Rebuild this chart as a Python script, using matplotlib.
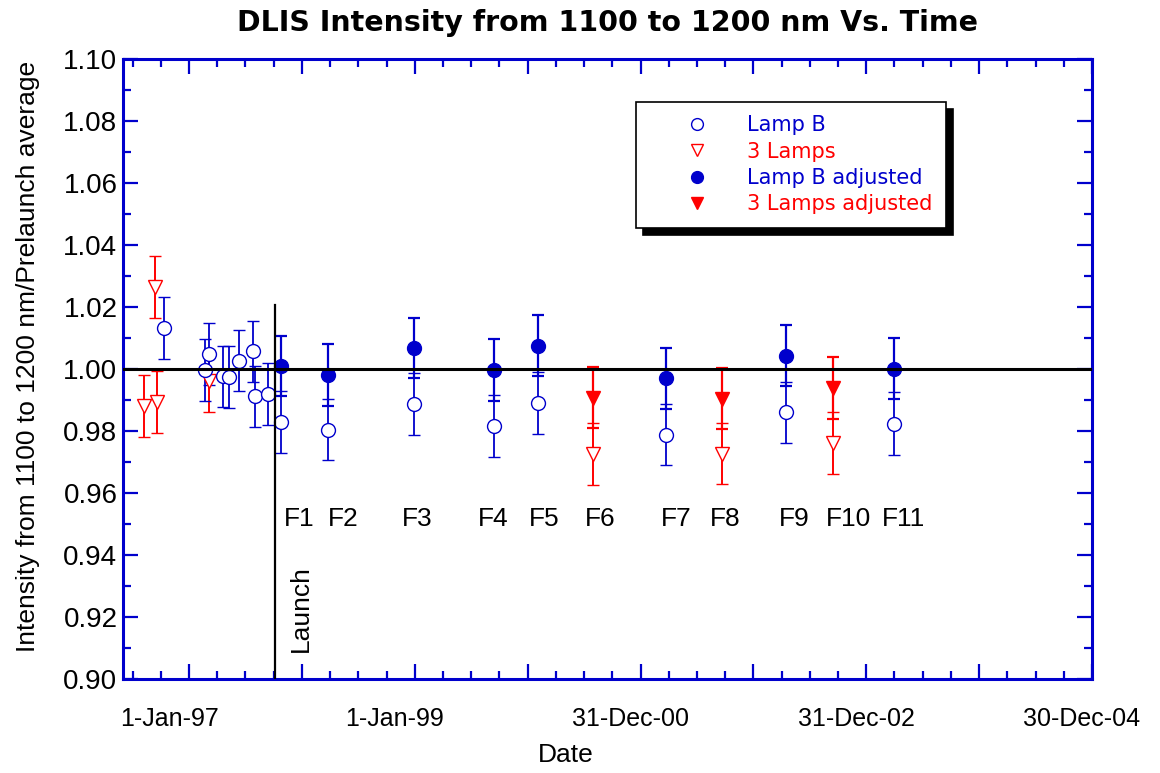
import matplotlib
matplotlib.use('Agg')
import matplotlib.pyplot as plt
import matplotlib.dates as mdates
import matplotlib.transforms as mtransforms
from matplotlib.lines import Line2D
from matplotlib.ticker import FixedLocator, MultipleLocator, FormatStrFormatter
import datetime as dt

plt.rcParams['font.family'] = ['Liberation Sans', 'DejaVu Sans']

BLUE = '#0000CC'
RED = '#FF0000'

# ---------------- data ----------------
lampb_dates = ['1996-10-13', '1997-02-21', '1997-03-07', '1997-04-22', '1997-05-11',
               '1997-06-11', '1997-07-26', '1997-08-02', '1997-09-12',
               '1997-10-25', '1998-03-28', '1998-12-28', '1999-09-15', '2000-02-04',
               '2001-03-22', '2002-04-16', '2003-04-01']
lampb_values = [1.0132, 0.9998, 1.0049, 0.9976, 0.9975, 1.0027, 1.0057, 0.9912, 0.9919,
                0.9828, 0.9804, 0.9887, 0.9815, 0.9890, 0.9788, 0.9860, 0.9824]
lampb_err = [0.0100, 0.0100, 0.0100, 0.0097, 0.0100, 0.0099, 0.0098, 0.0099, 0.0099,
             0.0100, 0.0099, 0.0100, 0.0100, 0.0100, 0.0099, 0.0099, 0.0101]

lamps3_dates = ['1996-08-08', '1996-09-13', '1996-09-19', '1997-03-07',
                '2000-07-29', '2001-09-20', '2002-09-14']
lamps3_values = [0.9880, 1.0266, 0.9893, 0.9962, 0.9727, 0.9727, 0.9761]
lamps3_err = [0.0100, 0.0100, 0.0100, 0.0100, 0.0100, 0.0099, 0.0100]

lampb_adj_dates = ['1997-10-25', '1998-03-28', '1998-12-28', '1999-09-15', '2000-02-04',
                   '2001-03-22', '2002-04-16', '2003-04-01']
lampb_adj_values = [1.0011, 0.9982, 1.0068, 0.9996, 1.0075, 0.9970, 1.0043, 1.0001]
lampb_adj_err = [0.0097, 0.0100, 0.0098, 0.0100, 0.0099, 0.0098, 0.0099, 0.0099]

lamps3_adj_dates = ['2000-07-29', '2001-09-20', '2002-09-14']
lamps3_adj_values = [0.9908, 0.9904, 0.9939]
lamps3_adj_err = [0.0098, 0.0099, 0.0099]

launch_date = '1997-10-06'
launch_top = 1.0207
reference_level = 1.00

f_labels = ['F1', 'F2', 'F3', 'F4', 'F5', 'F6', 'F7', 'F8', 'F9', 'F10', 'F11']
f_label_dates = ['1997-12-23', '1998-05-14', '1999-01-08', '1999-09-11', '2000-02-22',
                 '2000-08-21', '2001-04-27', '2001-09-30', '2002-05-12', '2002-11-02',
                 '2003-04-29']
f_label_value = 0.9515

x_tick_labels = ['1-Jan-97', '', '1-Jan-99', '', '31-Dec-00', '', '31-Dec-02', '', '30-Dec-04']
y_tick_values = [0.90, 0.92, 0.94, 0.96, 0.98, 1.00, 1.02, 1.04, 1.06, 1.08, 1.10]


def d(s):
    return mdates.date2num(dt.datetime.strptime(s, '%Y-%m-%d'))


# ---------------- figure ----------------
fig = plt.figure(figsize=(11.6, 7.73), dpi=100)
ax = fig.add_axes([123 / 1160, 1 - 679 / 773, 969 / 1160, 620 / 773])

d0 = d('1997-01-01')
ax.set_xlim(d0 - 213.5, d0 + 2920)
ax.set_ylim(0.90, 1.10)

cap = 4.3
ax.errorbar([d(s) for s in lamps3_dates], lamps3_values, yerr=lamps3_err, fmt='v',
            color=RED, mfc='white', mec=RED, ms=10, mew=1.0, elinewidth=1.4,
            capsize=cap, capthick=1.4, zorder=3)
ax.errorbar([d(s) for s in lampb_dates], lampb_values, yerr=lampb_err, fmt='o',
            color=BLUE, mfc='white', mec=BLUE, ms=10, mew=1.0, elinewidth=1.3,
            capsize=cap, capthick=1.3, zorder=3)
ax.errorbar([d(s) for s in lampb_adj_dates], lampb_adj_values, yerr=lampb_adj_err, fmt='o',
            color=BLUE, mfc=BLUE, mec=BLUE, ms=10, elinewidth=1.6,
            capsize=cap, capthick=1.6, zorder=3)
ax.errorbar([d(s) for s in lamps3_adj_dates], lamps3_adj_values, yerr=lamps3_adj_err, fmt='v',
            color=RED, mfc=RED, mec=RED, ms=10, elinewidth=1.6,
            capsize=cap, capthick=1.6, zorder=3)

ax.axhline(reference_level, color='black', lw=2.2, zorder=4)
ax.plot([d(launch_date), d(launch_date)], [0.90, launch_top], color='black', lw=1.6, zorder=4)
ax.text(d(launch_date) + 85, 0.9087, 'Launch', rotation=90, ha='center', va='bottom',
        fontsize=19)

for lab, ld in zip(f_labels, f_label_dates):
    ax.text(d(ld), f_label_value, lab, ha='center', va='center', fontsize=19)

# ---------------- axes styling ----------------
for sp in ax.spines.values():
    sp.set_color(BLUE)
    sp.set_linewidth(2.2)

major_x = [d0 + 365 * k for k in range(9)]
minor_x = [d0 + 91.25 * k for k in range(-2, 33)]
ax.xaxis.set_major_locator(FixedLocator(major_x))
ax.xaxis.set_minor_locator(FixedLocator(minor_x))
ax.set_xticklabels(x_tick_labels)
ax.yaxis.set_major_locator(FixedLocator(y_tick_values))
ax.yaxis.set_minor_locator(MultipleLocator(0.01))
ax.yaxis.set_major_formatter(FormatStrFormatter('%.2f'))

ax.tick_params(which='both', direction='in', top=True, right=True, color=BLUE, width=1.6)
ax.tick_params(which='major', length=11)
ax.tick_params(which='minor', length=6)
ax.tick_params(axis='y', labelsize=20, pad=4)
ax.tick_params(axis='x', labelsize=18, pad=20)

for lbl in ax.get_xticklabels():
    shift = -20 if 'Jan' in lbl.get_text() else -10
    lbl.set_transform(lbl.get_transform() +
                      mtransforms.ScaledTranslation(shift / 100, 0, fig.dpi_scale_trans))

ax.set_xlabel('Date', fontsize=19, x=0.457, labelpad=9)
ax.set_ylabel('Intensity from 1100 to 1200 nm/Prelaunch average', fontsize=19, labelpad=17,
              y=0.52)
ax.set_title('DLIS Intensity from 1100 to 1200 nm Vs. Time', fontsize=20.5, fontweight='bold',
             family='DejaVu Sans', pad=20)

handles = [
    Line2D([], [], ls='none', marker='o', mfc='white', mec=BLUE, ms=8.5, mew=1.0),
    Line2D([], [], ls='none', marker='v', mfc='white', mec=RED, ms=8.5, mew=1.0),
    Line2D([], [], ls='none', marker='o', mfc=BLUE, mec=BLUE, ms=8.5),
    Line2D([], [], ls='none', marker='v', mfc=RED, mec=RED, ms=8.5),
]
labels = ['Lamp B', '3 Lamps', 'Lamp B adjusted', '3 Lamps adjusted']
leg = ax.legend(handles, labels, loc='upper left', bbox_to_anchor=(0.5294, 0.931),
                borderaxespad=0, prop={'family': 'DejaVu Sans', 'size': 15},
                frameon=True, fancybox=False, borderpad=0.65,
                handlelength=4.57, handletextpad=0.1, labelspacing=0.30,
                shadow={'ox': 5, 'oy': -5, 'facecolor': 'black', 'edgecolor': 'black', 'alpha': 1})
leg.get_frame().set_edgecolor('black')
leg.get_frame().set_linewidth(1.2)
for txt, c in zip(leg.get_texts(), [BLUE, RED, BLUE, RED]):
    txt.set_color(c)

fig.savefig('out.png', dpi=100)
